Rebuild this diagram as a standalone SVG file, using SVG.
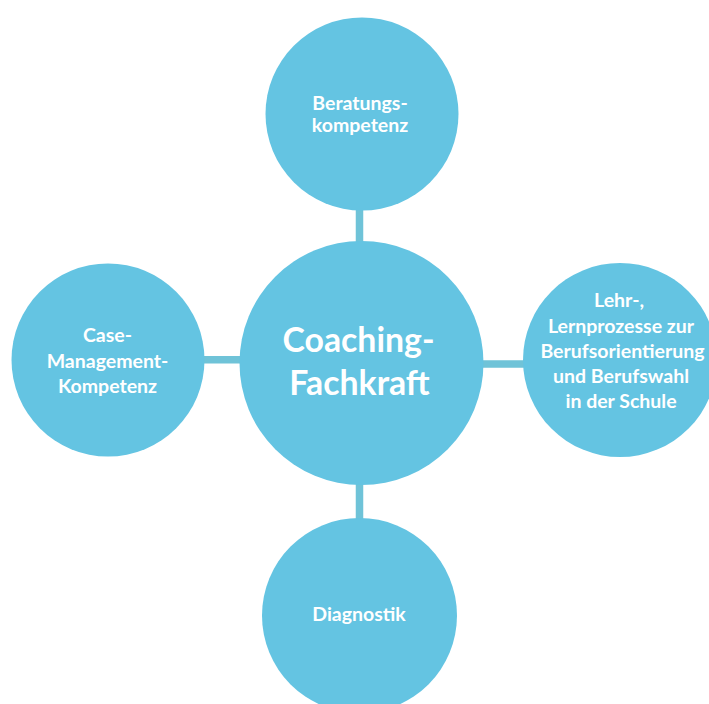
<svg xmlns="http://www.w3.org/2000/svg" width="709" height="704" viewBox="0 0 709 704">
<style>
.node{fill:#64C4E2}
.lbl{fill:#FFFFFF;font-family:Lato,"Open Sans","Liberation Sans",sans-serif;font-weight:bold;text-anchor:middle;font-size:19.5px}
.big{font-size:33.8px}
.conn{stroke:#6FC3D8;stroke-width:7.5;stroke-linecap:round;fill:none}
</style>
<rect width="709" height="704" fill="#FFFFFF"/>
<g id="connectors">
<line class="conn" x1="359.5" y1="205" x2="359.5" y2="246"/>
<line class="conn" x1="199" y1="359.7" x2="245" y2="359.7"/>
<line class="conn" x1="479" y1="364" x2="527" y2="364"/>
<line class="conn" x1="359.5" y1="480" x2="359.5" y2="522"/>
</g>
<g id="center">
<circle class="node" cx="361.5" cy="363" r="122"/>
<text class="lbl big" x="358.5" y="352">Coaching-</text>
<text class="lbl big" x="359.5" y="395">Fachkraft</text>
</g>
<g id="top">
<circle class="node" cx="362" cy="114" r="96.5"/>
<text class="lbl" x="360" y="110">Beratungs-</text>
<text class="lbl" x="360" y="132">kompetenz</text>
</g>
<g id="left">
<circle class="node" cx="108" cy="360" r="96.5"/>
<text class="lbl" x="107.5" y="342">Case-</text>
<text class="lbl" x="107.5" y="368">Management-</text>
<text class="lbl" x="107.5" y="392.5">Kompetenz</text>
</g>
<g id="right">
<circle class="node" cx="620" cy="360" r="97"/>
<text class="lbl" x="619" y="307">Lehr-,</text>
<text class="lbl" x="621" y="333">Lernprozesse zur</text>
<text class="lbl" x="622.5" y="358">Berufsorientierung</text>
<text class="lbl" x="621" y="382.5">und Berufswahl</text>
<text class="lbl" x="621" y="408">in der Schule</text>
</g>
<g id="bottom">
<circle class="node" cx="359.5" cy="615.5" r="97.5"/>
<text class="lbl" x="359" y="621">Diagnostik</text>
</g>
</svg>
